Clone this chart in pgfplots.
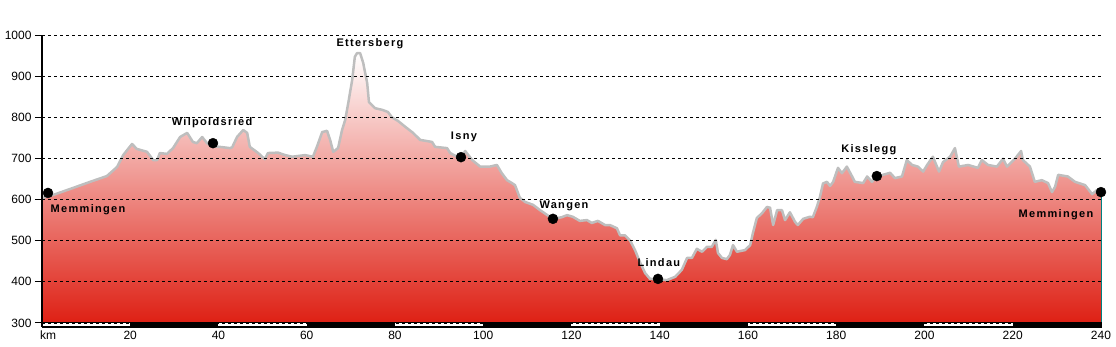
\documentclass[border=0pt]{standalone}
\usepackage{fontspec}
\setmainfont{Liberation Sans}
\newfontfamily\lblfont[LetterSpace=12]{Liberation Sans}
\usepackage{pgfplots}
\pgfplotsset{compat=1.18}
\usepackage{pgfplotstable}
\definecolor{prof}{RGB}{222,32,20}
\definecolor{pline}{RGB}{190,190,190}
\definecolor{edge}{RGB}{0,128,128}

\pgfplotstableread{
x y
0 300
0 604
1.4 607
2.5 611
7.0 628
10.9 643
14.7 657
17.0 679
18.4 708
20.4 735
21.5 723
23.8 716
25.2 696
26.1 696
26.7 713
28.3 711
29.7 725
31.3 752
32.9 762
34.2 740
35.1 737
36.3 752
37.4 737
38.5 730
40.3 728
42.6 725
43.1 727
44.2 752
45.6 769
46.5 762
47.1 728
49.0 713
50.5 698
51.2 713
53.5 714
55.1 708
56.7 704
59.6 708
61.4 704
62.3 728
63.5 764
64.6 767
65.3 745
66.0 716
67.1 725
68.0 769
68.7 793
69.4 834
70.3 891
70.9 947
71.4 956
72.1 956
72.8 932
73.7 883
74.1 837
75.5 822
77.1 818
78.4 813
79.3 800
80.7 791
82.3 777
84.1 762
85.7 745
88.4 740
89.1 728
91.8 725
92.5 713
94.1 704
95.0 700
95.9 718
97.5 696
99.3 680
101.5 680
103.1 684
104.2 664
105.4 647
106.5 640
107.2 635
108.3 604
109.5 594
111.3 587
112.9 574
114.4 563
115.8 553
117.8 557
119.0 562
120.3 558
121.9 548
123.5 550
124.6 543
126.0 548
127.6 538
128.7 538
130.3 530
131.0 513
132.1 513
133.3 500
134.4 477
135.5 448
136.7 421
137.8 407
139.6 406
141.6 404
143.5 412
145.0 429
146.2 458
147.3 458
148.4 480
149.6 473
150.7 485
151.8 485
152.7 502
153.2 470
154.1 458
155.2 455
155.9 465
156.6 489
157.5 473
159.3 477
160.5 489
161.1 518
162.0 555
163.2 567
164.3 582
165.0 580
165.7 538
166.6 574
167.7 574
168.4 550
169.5 569
170.7 545
171.3 538
172.5 553
174.0 558
174.7 557
175.6 582
176.3 606
177.0 639
177.9 643
178.6 633
179.3 643
180.4 677
181.3 664
182.4 680
183.6 656
184.2 643
186.1 640
187.0 656
188.1 643
189.2 656
190.6 660
192.2 665
193.3 652
194.9 656
196.0 696
197.2 684
198.5 680
199.7 668
200.6 684
201.9 704
203.3 668
204.2 691
205.8 704
206.9 725
207.8 680
209.9 684
212.1 677
213.0 696
214.4 684
216.4 680
217.8 699
218.7 680
220.5 699
221.9 718
222.3 696
223.9 680
225.0 643
226.6 647
228.0 640
228.9 618
229.6 631
230.3 660
232.5 656
234.1 643
236.4 635
238.0 613
239.1 623
240 616
240 300
}\profile

\pgfplotstableread{
x y
1.36 616
38.75 737
94.96 703
115.8 553
139.6 407
189.2 657
240 618
}\places

\begin{document}
\begin{tikzpicture}
\useasboundingbox (-42pt,-19pt) rectangle (1074pt,327pt);
\begin{axis}[
  scale only axis, width=1059pt, height=292pt,
  xmin=0, xmax=240, ymin=290, ymax=1000,
  clip=false,
  axis lines=left, axis line style={-, line width=1.2pt},
  axis on top,
  ytick={300,400,...,1000}, xtick={20,40,...,240},
  ymajorgrids, grid style={dash pattern=on 3pt off 3pt, black, line width=0.6pt},
  tick align=outside, major tick length=7pt,
  ytick style={line width=1pt, black},
  xtick style={draw=none},
  tick label style={font=\fontsize{12}{14}\selectfont, text=black},
  xticklabel style={yshift=7pt, inner sep=0pt, anchor=north, yshift=-4pt},
  /pgf/number format/assume math mode=true,
  /pgf/number format/1000 sep={},
]
\addplot[draw=none, top color=white, bottom color=prof] table {\profile};
\addplot[draw=pline, line width=2.5pt, line join=round, restrict y to domain=300.5:2000] table {\profile};
\draw[edge, line width=0.8pt] (axis cs:240,616) -- (axis cs:240,300);
% distance strip
\draw[black, fill=white, line width=0.8pt] (axis cs:0,290) rectangle (axis cs:240,300);
\fill[black] (axis cs:20,290) rectangle (axis cs:40,300);
\fill[black] (axis cs:60,290) rectangle (axis cs:80,300);
\fill[black] (axis cs:100,290) rectangle (axis cs:120,300);
\fill[black] (axis cs:140,290) rectangle (axis cs:160,300);
\fill[black] (axis cs:180,290) rectangle (axis cs:200,300);
\fill[black] (axis cs:220,290) rectangle (axis cs:240,300);
\addplot[only marks, mark=*, mark size=5pt, black] table {\places};
\begin{scope}[every node/.style={font=\lblfont\bfseries\fontsize{11}{13}\selectfont, inner sep=0pt}]
\node at (axis cs:10.43,574.6) {Memmingen};
\node at (axis cs:38.53,786.1) {Wilpoldsried};
\node at (axis cs:74.33,978.1) {Ettersberg};
\node at (axis cs:95.63,752.1) {Isny};
\node at (axis cs:118.3,584.4) {Wangen};
\node at (axis cs:139.8,445.8) {Lindau};
\node at (axis cs:187.4,720.5) {Kisslegg};
\node at (axis cs:229.8,562.5) {Memmingen};
\end{scope}
\node[anchor=north west, inner sep=0pt, font=\fontsize{12}{14}\selectfont] at ([yshift=-4pt,xshift=-2pt]axis cs:0,290) {km};
\end{axis}
\end{tikzpicture}
\end{document}
